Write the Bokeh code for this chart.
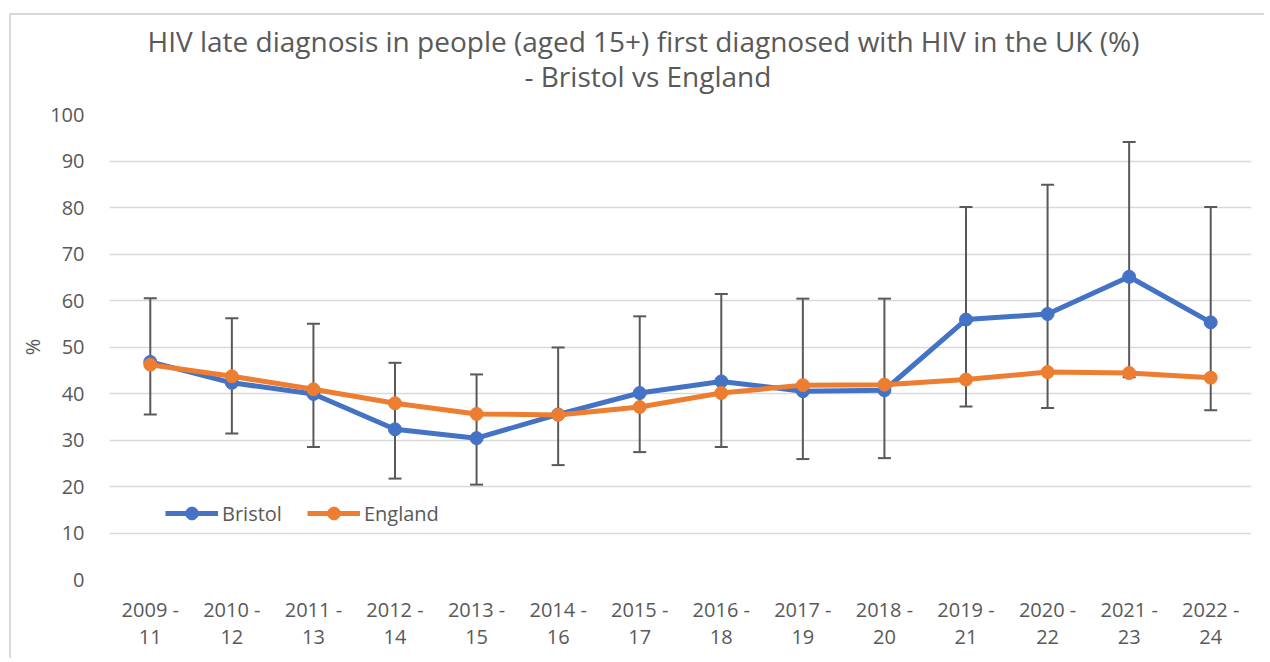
from bokeh.plotting import figure
from bokeh.models import ColumnDataSource, Whisker, TeeHead, FixedTicker, Legend, LegendItem, Title
from bokeh.embed import file_html
from bokeh.resources import INLINE

# ---- data ----
periods = ["2009 -\n11", "2010 -\n12", "2011 -\n13", "2012 -\n14", "2013 -\n15", "2014 -\n16", "2015 -\n17",
           "2016 -\n18", "2017 -\n19", "2018 -\n20", "2019 -\n21", "2020 -\n22", "2021 -\n23", "2022 -\n24"]
bristol = [46.8, 42.3, 39.9, 32.3, 30.4, 35.5, 40.1, 42.6, 40.5, 40.7, 55.9, 57.1, 65.1, 55.3]
bristol_upper = [60.5, 56.2, 55.0, 46.6, 44.1, 49.9, 56.6, 61.4, 60.4, 60.4, 80.1, 84.9, 94.1, 80.1]
bristol_lower = [35.5, 31.4, 28.5, 21.7, 20.4, 24.6, 27.4, 28.5, 25.9, 26.1, 37.2, 36.9, 43.5, 36.4]
england = [46.2, 43.7, 40.9, 37.9, 35.6, 35.4, 37.1, 40.1, 41.8, 41.9, 43.0, 44.6, 44.4, 43.4]
y_ticks = [0, 10, 20, 30, 40, 50, 60, 70, 80, 90, 100]
title_lines = ["HIV late diagnosis in people (aged 15+) first diagnosed with HIV in the UK (%)",
               "- Bristol vs England"]

BLUE = "#4472C4"
ORANGE = "#ED7D31"
GREY = "#595959"
GRID = "#D9D9D9"
FONT = "Open Sans"

idx = list(range(len(periods)))
src = ColumnDataSource(dict(x=idx, bristol=bristol, upper=bristol_upper, lower=bristol_lower, england=england))

p = figure(width=1255, height=645, output_backend="svg", toolbar_location=None,
           x_range=(-0.5, len(periods) - 0.5), y_range=(0, 100),
           min_border_left=98, min_border_right=15, min_border_top=99, min_border_bottom=81)
p.outline_line_color = None
p.background_fill_color = "white"
p.border_fill_color = "white"

# axes
p.xaxis.ticker = FixedTicker(ticks=idx)
p.xaxis.major_label_overrides = {i: lab for i, lab in enumerate(periods)}
p.yaxis.ticker = FixedTicker(ticks=y_ticks)
for ax in (p.xaxis, p.yaxis):
    ax.axis_line_color = None
    ax.major_tick_line_color = None
    ax.minor_tick_line_color = None
    ax.major_label_text_color = GREY
    ax.major_label_text_font = FONT
    ax.major_label_text_font_size = "20px"
p.xaxis.major_label_standoff = 10
p.xaxis.major_label_text_line_height = 1.0
p.yaxis.major_label_standoff = 19
p.yaxis.axis_label = "%"
p.yaxis.axis_label_text_font = FONT
p.yaxis.axis_label_text_font_size = "20px"
p.yaxis.axis_label_text_font_style = "normal"
p.yaxis.axis_label_text_color = GREY
p.yaxis.axis_label_standoff = 1

p.xgrid.grid_line_color = None
p.ygrid.grid_line_color = GRID
p.ygrid.grid_line_width = 1.5

# error bars
wh = Whisker(base="x", upper="upper", lower="lower", source=src,
             line_color=GREY, line_width=2,
             upper_head=TeeHead(size=13, line_color=GREY, line_width=2),
             lower_head=TeeHead(size=13, line_color=GREY, line_width=2),
             level="underlay")
p.add_layout(wh)

# series
bl = p.line("x", "bristol", source=src, line_color=BLUE, line_width=5)
bs = p.scatter("x", "bristol", source=src, size=13, fill_color=BLUE, line_color=BLUE)
el = p.line("x", "england", source=src, line_color=ORANGE, line_width=5)
es = p.scatter("x", "england", source=src, size=13, fill_color=ORANGE, line_color=ORANGE)

legend = Legend(items=[LegendItem(label="Bristol", renderers=[bl, bs]),
                       LegendItem(label="England", renderers=[el, es])],
                orientation="horizontal", location=(56, 50),
                background_fill_alpha=0, border_line_color=None,
                label_text_color=GREY, label_text_font=FONT, label_text_font_size="20px",
                glyph_width=53, glyph_height=32, label_standoff=4, spacing=25, padding=4, margin=0)
p.add_layout(legend, "center")

# title (two lines, nearest-to-plot first)
t2 = Title(text=title_lines[1], align="left", offset=415, text_color=GREY, text_font=FONT,
           text_font_size="28px", text_font_style="normal", standoff=39)
t1 = Title(text=title_lines[0], align="left", offset=38, text_color=GREY, text_font=FONT,
           text_font_size="28px", text_font_style="normal", standoff=-48)
p.add_layout(t2, "above")
p.add_layout(t1, "above")

p.styles = {"margin-left": "9px", "margin-top": "13px",
            "border-left": "2px solid #D9D9D9", "border-top": "2px solid #D9D9D9"}

open("out.html", "w").write(file_html(p, INLINE))
